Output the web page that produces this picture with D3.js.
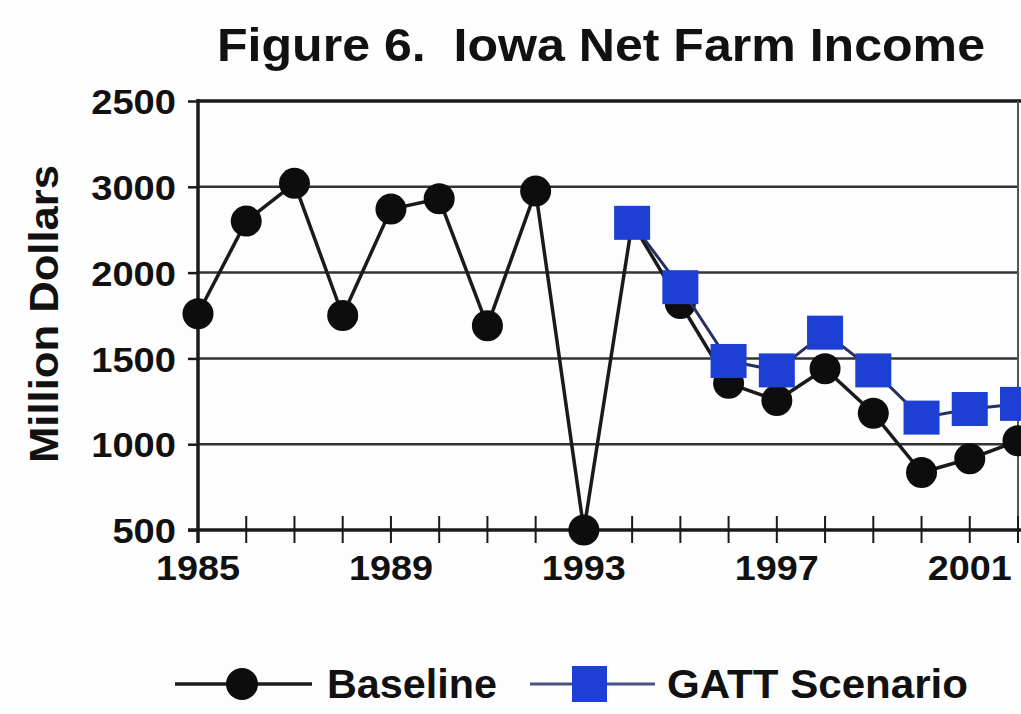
<!DOCTYPE html>
<html>
<head>
<meta charset="utf-8">
<script src="https://cdn.jsdelivr.net/npm/d3@7"></script>
<style>
  html, body { margin: 0; padding: 0; background: #fdfdfd; overflow: hidden; }
  svg { display: block; }
  text { font-family: "Liberation Sans", Arial, Helvetica, sans-serif; font-weight: bold; fill: #111; }
</style>
</head>
<body>
<svg id="chart" width="1021" height="714"></svg>
<script>
// ---- data ----
const years = [1985,1986,1987,1988,1989,1990,1991,1992,1993,1994,1995,1996,1997,1998,1999,2000,2001,2002];
const baseline = [1760,2300,2520,1750,2370,2430,1690,2475,500,2290,1820,1355,1255,1440,1180,835,915,1020];
const gattYears = [1994,1995,1996,1997,1998,1999,2000,2001,2002];
const gatt = [2290,1915,1485,1430,1650,1430,1155,1205,1235];
const yTickValues = [500,1000,1500,2000,2500,3000];
const yTickLabels = ["500","1000","1500","2000","3000","2500"];
const xLabelYears = [1985,1989,1993,1997,2001];
const titleText = "Figure 6.\u00a0\u00a0Iowa Net Farm Income";
const yTitle = "Million Dollars";
const seriesNames = ["Baseline", "GATT Scenario"];

// ---- layout ----
const svg = d3.select("#chart");
const pL = 198, pR = 1018, pT = 101, pB = 530;
const x = d3.scaleLinear().domain([1985, 2002]).range([pL, pR]);
const y = d3.scaleLinear().domain([500, 3000]).range([pB, pT]);

const ink = "#1a1a1a";
const blue = "#1d3fd3";
const gattLine = "#27305e";

// title
svg.append("text")
  .attr("x", 217).attr("y", 61)
  .attr("font-size", 47)
  .attr("textLength", 768).attr("lengthAdjust", "spacingAndGlyphs")
  .text(titleText);

// gridlines
svg.append("g").selectAll("line")
  .data(yTickValues.filter(v => v > 500 && v < 3000))
  .join("line")
  .attr("x1", pL).attr("x2", pR)
  .attr("y1", d => y(d)).attr("y2", d => y(d))
  .attr("stroke", "#333").attr("stroke-width", 2.5);

// top and right frame
svg.append("line").attr("x1", pL).attr("x2", pR + 3).attr("y1", y(3000)).attr("y2", y(3000))
  .attr("stroke", ink).attr("stroke-width", 3.5);
svg.append("line").attr("x1", pR).attr("x2", pR).attr("y1", pT).attr("y2", pB)
  .attr("stroke", "#555").attr("stroke-width", 2);

// y axis
const yAxis = d3.axisLeft(y).tickValues(yTickValues)
  .tickFormat((d, i) => yTickLabels[i]).tickSize(10).tickPadding(12);
const gy = svg.append("g").attr("transform", `translate(${pL},0)`).call(yAxis);
gy.select(".domain").remove();
gy.selectAll(".tick line").attr("stroke", ink).attr("stroke-width", 2.5);
gy.selectAll(".tick text").attr("font-size", 35).attr("font-family", "Liberation Sans, Arial, sans-serif")
  .attr("font-weight", "bold").attr("fill", "#111").attr("dy", "0.36em")
  .attr("textLength", (d, i) => yTickLabels[i].length * 21.2).attr("lengthAdjust", "spacingAndGlyphs");

// x axis ticks (crossing)
svg.append("g").selectAll("line")
  .data(years.slice(1))
  .join("line")
  .attr("x1", d => x(d)).attr("x2", d => x(d))
  .attr("y1", pB - 14).attr("y2", pB + 13)
  .attr("stroke", ink).attr("stroke-width", 2);

// axis lines
svg.append("line").attr("x1", pL).attr("x2", pL).attr("y1", pT - 2).attr("y2", pB + 13)
  .attr("stroke", ink).attr("stroke-width", 3.5);
svg.append("line").attr("x1", pL - 10).attr("x2", pR + 3).attr("y1", pB).attr("y2", pB)
  .attr("stroke", ink).attr("stroke-width", 3.5);

// x labels
svg.append("g").selectAll("text")
  .data(xLabelYears)
  .join("text")
  .attr("x", d => x(d)).attr("y", 580)
  .attr("text-anchor", "middle")
  .attr("font-size", 35)
  .attr("textLength", 84).attr("lengthAdjust", "spacingAndGlyphs")
  .text(d => d);

// y title
svg.append("text")
  .attr("transform", "translate(58,314) rotate(-90)")
  .attr("text-anchor", "middle")
  .attr("font-size", 40)
  .attr("textLength", 298).attr("lengthAdjust", "spacingAndGlyphs")
  .text(yTitle);

// baseline series
const line = d3.line().x(d => x(d[0])).y(d => y(d[1]));
const basePts = years.map((yr, i) => [yr, baseline[i]]);
svg.append("path").datum(basePts).attr("d", line)
  .attr("fill", "none").attr("stroke", ink).attr("stroke-width", 3.5).attr("stroke-linejoin", "round");
svg.append("g").selectAll("circle").data(basePts).join("circle")
  .attr("cx", d => x(d[0])).attr("cy", d => y(d[1])).attr("r", 15.5)
  .attr("fill", "#0d0d0d");

// GATT series
const gattPts = gattYears.map((yr, i) => [yr, gatt[i]]);
svg.append("path").datum(gattPts).attr("d", line)
  .attr("fill", "none").attr("stroke", gattLine).attr("stroke-width", 3);
svg.append("g").selectAll("rect").data(gattPts).join("rect")
  .attr("x", d => x(d[0]) - 18).attr("y", d => y(d[1]) - 17)
  .attr("width", 36).attr("height", 34)
  .attr("fill", blue);

// legend
const lg = svg.append("g");
const ly = 684;
lg.append("line").attr("x1", 175).attr("x2", 312).attr("y1", ly).attr("y2", ly)
  .attr("stroke", ink).attr("stroke-width", 3.5);
lg.append("circle").attr("cx", 242).attr("cy", ly).attr("r", 16).attr("fill", "#0d0d0d");
lg.append("text").attr("x", 327).attr("y", ly + 14).attr("font-size", 40)
  .attr("textLength", 170).attr("lengthAdjust", "spacingAndGlyphs").text(seriesNames[0]);
lg.append("line").attr("x1", 530).attr("x2", 655).attr("y1", ly).attr("y2", ly)
  .attr("stroke", "#4a5282").attr("stroke-width", 3);
lg.append("rect").attr("x", 572).attr("y", ly - 18).attr("width", 35).attr("height", 36).attr("fill", blue);
lg.append("text").attr("x", 667).attr("y", ly + 14).attr("font-size", 40)
  .attr("textLength", 301).attr("lengthAdjust", "spacingAndGlyphs").text(seriesNames[1]);
</script>
</body>
</html>
